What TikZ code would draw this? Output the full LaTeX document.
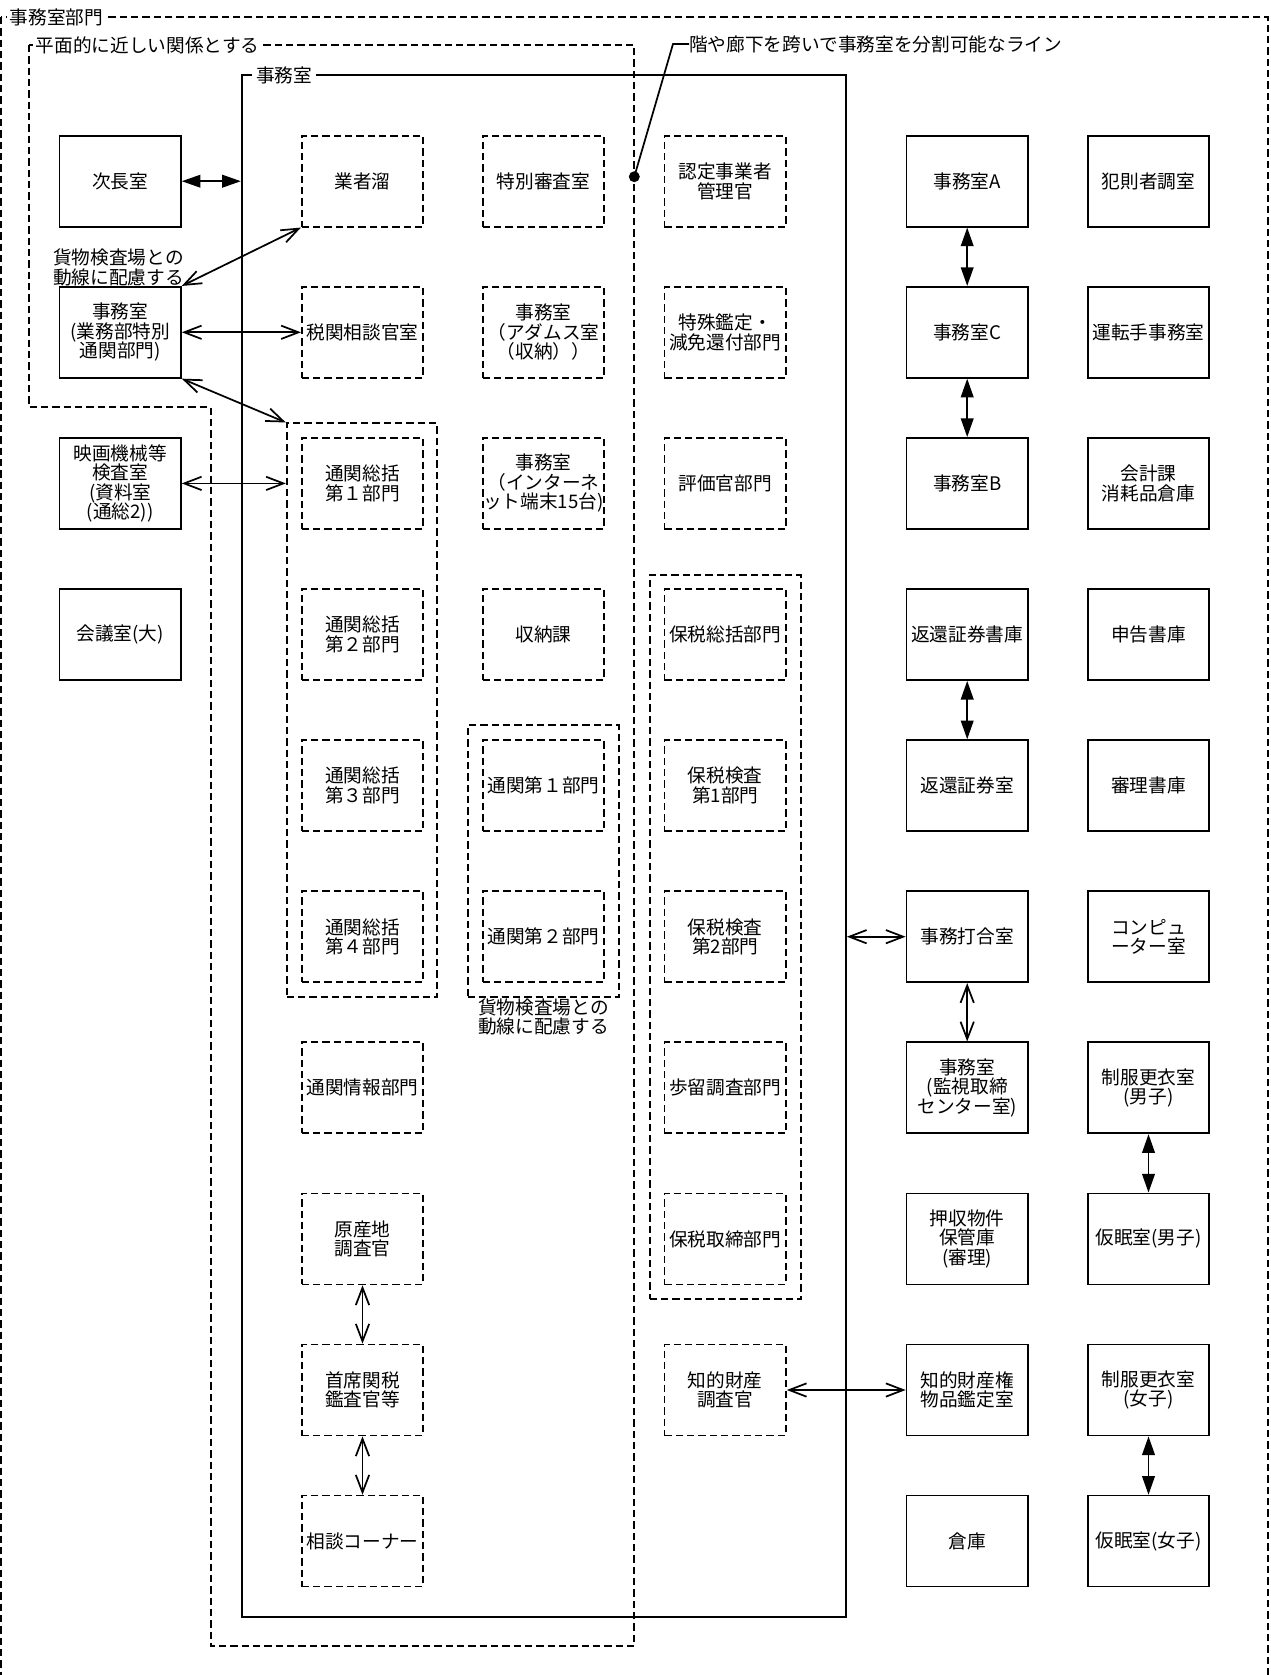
\documentclass[tikz,border=0pt]{standalone}
\usepackage{fontspec}
\setmainfont{Noto Sans CJK JP}
\usetikzlibrary{arrows.meta}
\begin{document}
\begin{tikzpicture}[x=0.75pt,y=-0.75pt,
  every node/.style={font=\fontsize{14pt}{14.6pt}\selectfont},
  room/.style={draw, line width=1.3pt, minimum width=91.1pt, minimum height=68.25pt, inner sep=0pt, align=center},
  droom/.style={room, dash pattern=on 5.5pt off 3pt},
  grp/.style={draw, line width=1.3pt, dash pattern=on 5.5pt off 3pt, inner sep=0pt},
  dline/.style={line width=1.3pt, dash pattern=on 5.5pt off 3pt},
  biF/.style={line width=1.3pt, {Triangle[length=14pt,width=9.5pt]}-{Triangle[length=14pt,width=9.5pt]}},
  biO/.style={line width=1.3pt, {Straight Barb[length=13pt,width=10pt]}-{Straight Barb[length=13pt,width=10pt]}},
  lbl/.style={fill=white, inner xsep=2pt, inner ysep=1pt, anchor=west},
  note/.style={align=center, inner sep=0pt}
]
\clip (0,0) rectangle (1271,1675);
\fill[white] (0,0) rectangle (1271,1675);

% outer section frame
\draw[dline] (1,17) rectangle (1268,1720);
\node[lbl] (bumon) at (7,17) {事務室部門};

% planar relation frame
\draw[dline] (29.3,45) -- (29.3,407.3) -- (210.7,407.3) -- (210.7,1646) -- (634.3,1646) -- (634.3,45) -- cycle;
\node[lbl] (heimen) at (33,45) {平面的に近しい関係とする};

% main office
\node[draw, line width=1.3pt, minimum width=453.2pt, minimum height=1156.5pt, inner sep=0pt] (jimu) at (543.85,846) {};
\node[lbl, inner xsep=3pt] (jimuL) at (252,75) {事務室\hspace{6pt}};

% groups
\node[grp, minimum width=112.95pt, minimum height=430.3pt] (g1) at (362,710.2) {};
\node[grp, minimum width=113.7pt, minimum height=204pt] (g2) at (543.5,861.3) {};
\node[grp, minimum width=113.25pt, minimum height=543.3pt] (g3) at (725.2,937) {};

% column 1
\node[room] (jichou) at (120.2,181.2) {次長室};
\node[room] (gyomu) at (120.2,332.3) {事務室\\(業務部特別\\通関部門)};
\node[room] (eiga) at (120.2,483.4) {映画機械等\\検査室\\(資料室\\(通総2))};
\node[room] (kaigi) at (120.2,634.5) {会議室(大)};

% column 2
\node[droom] (gyosha) at (362.5,181.2) {業者溜};
\node[droom] (soudan) at (362.5,332.3) {税関相談官室};
\node[droom] (sk1) at (362.5,483.4) {通関総括\\第１部門};
\node[droom] (sk2) at (362.5,634.5) {通関総括\\第２部門};
\node[droom] (sk3) at (362.5,785.6) {通関総括\\第３部門};
\node[droom] (sk4) at (362.5,936.7) {通関総括\\第４部門};
\node[droom] (jouhou) at (362.5,1087.8) {通関情報部門};
\node[droom] (gensan) at (362.5,1238.9) {原産地\\調査官};
\node[droom] (shuseki) at (362.5,1390) {首席関税\\鑑査官等};
\node[droom] (corner) at (362.5,1541.1) {相談コーナー};

% column 3
\node[droom] (tokubetsu) at (543.5,181.2) {特別審査室};
\node[droom] (adams) at (543.5,332.3) {事務室\\（アダムス室\\（収納））};
\node[droom] (inet) at (543.5,483.4) {事務室\\（インターネ\\ット端末15台)};
\node[droom] (shuno) at (543.5,634.5) {収納課};
\node[droom] (tk1) at (543.5,785.6) {通関第１部門};
\node[droom] (tk2) at (543.5,936.7) {通関第２部門};

% column 4
\node[droom] (nintei) at (725.2,181.2) {認定事業者\\管理官};
\node[droom] (tokushu) at (725.2,332.3) {特殊鑑定・\\減免還付部門};
\node[droom] (hyouka) at (725.2,483.4) {評価官部門};
\node[droom] (hozei) at (725.2,634.5) {保税総括部門};
\node[droom] (hk1) at (725.2,785.6) {保税検査\\第1部門};
\node[droom] (hk2) at (725.2,936.7) {保税検査\\第2部門};
\node[droom] (budome) at (725.2,1087.8) {歩留調査部門};
\node[droom] (torishimari) at (725.2,1238.9) {保税取締部門};
\node[droom] (chiteki) at (725.2,1390) {知的財産\\調査官};

% column 5
\node[room] (jA) at (967.2,181.2) {事務室A};
\node[room] (jC) at (967.2,332.3) {事務室C};
\node[room] (jB) at (967.2,483.4) {事務室B};
\node[room] (henko) at (967.2,634.5) {返還証券書庫};
\node[room] (henshitsu) at (967.2,785.6) {返還証券室};
\node[room] (uchi) at (967.2,936.7) {事務打合室};
\node[room] (kanshi) at (967.2,1087.8) {事務室\\(監視取締\\センター室)};
\node[room] (oushu) at (967.2,1238.9) {押収物件\\保管庫\\(審理)};
\node[room] (kantei) at (967.2,1390) {知的財産権\\物品鑑定室};
\node[room] (souko) at (967.2,1541.1) {倉庫};

% column 6
\node[room] (hansoku) at (1148.5,181.2) {犯則者調室};
\node[room] (untenshu) at (1148.5,332.3) {運転手事務室};
\node[room] (kaikei) at (1148.5,483.4) {会計課\\消耗品倉庫};
\node[room] (shinkoku) at (1148.5,634.5) {申告書庫};
\node[room] (shinri) at (1148.5,785.6) {審理書庫};
\node[room] (computer) at (1148.5,936.7) {コンピュ\\ーター室};
\node[room] (seiM) at (1148.5,1087.8) {制服更衣室\\(男子)};
\node[room] (kaM) at (1148.5,1238.9) {仮眠室(男子)};
\node[room] (seiF) at (1148.5,1390) {制服更衣室\\(女子)};
\node[room] (kaF) at (1148.5,1541.1) {仮眠室(女子)};

% notes
\node[note] (noteA) at (118.5,267.5) {貨物検査場との\\動線に配慮する};
\node[note] (noteB) at (543.5,1017) {貨物検査場との\\動線に配慮する};

% dividing line note
\coordinate (dot) at (634.3,176.7);
\coordinate (bend) at (673,44);
\node[anchor=west, inner sep=0pt] (lineNote) at (689,44) {階や廊下を跨いで事務室を分割可能なライン};
\fill (dot) circle (4.1pt);
\draw[line width=1.3pt] (dot) -- (bend) -- (lineNote.west);

% connectors
\draw[biF] (jichou.east) -- (jichou.east -| jimu.west);
\draw[biO] (gyomu.north east) -- (gyosha.south west);
\draw[biO] (gyomu.east) -- (soudan.west);
\draw[biO] (gyomu.south east) -- (g1.north west);
\draw[biO] (eiga.east) -- (eiga.east -| g1.west);
\draw[biF] (jA.south) -- (jC.north);
\draw[biF] (jC.south) -- (jB.north);
\draw[biF] (henko.south) -- (henshitsu.north);
\draw[biO] (uchi.west) -- (uchi.west -| jimu.east);
\draw[biO] (uchi.south) -- (kanshi.north);
\draw[biF] (seiM.south) -- (kaM.north);
\draw[biF] (seiF.south) -- (kaF.north);
\draw[biO] (chiteki.east) -- (kantei.west);
\draw[biO] (gensan.south) -- (shuseki.north);
\draw[biO] (shuseki.south) -- (corner.north);
\end{tikzpicture}
\end{document}
